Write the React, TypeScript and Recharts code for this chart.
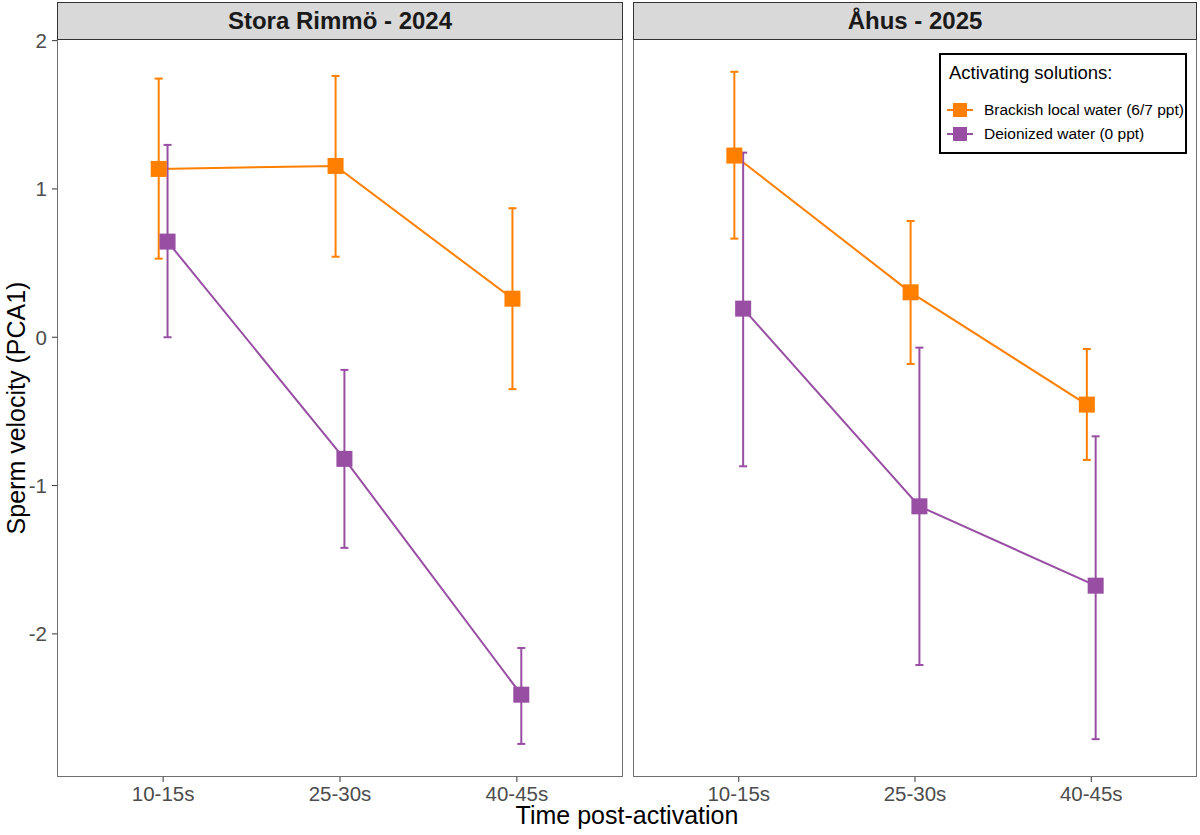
import React from 'react';
import { LineChart, Line, XAxis, YAxis, ErrorBar } from 'recharts';

// categories on the x axis
const timePoints = ['10-15s', '25-30s', '40-45s'];
const yTicks = [-2, -1, 0, 1, 2];

// Stora Rimmö - 2024
const rimmoBrackishMean = [1.135, 1.155, 0.26];
const rimmoBrackishLow = [0.53, 0.543, -0.35];
const rimmoBrackishHigh = [1.744, 1.762, 0.87];
const rimmoDeionMean = [0.645, -0.82, -2.41];
const rimmoDeionLow = [0.0, -1.42, -2.742];
const rimmoDeionHigh = [1.297, -0.22, -2.095];

// Åhus - 2025
const ahusBrackishMean = [1.225, 0.303, -0.454];
const ahusBrackishLow = [0.665, -0.18, -0.827];
const ahusBrackishHigh = [1.79, 0.784, -0.079];
const ahusDeionMean = [0.193, -1.14, -1.675];
const ahusDeionLow = [-0.87, -2.21, -2.71];
const ahusDeionHigh = [1.245, -0.07, -0.668];

const ORANGE = '#FF7F00';
const PURPLE = '#984EA3';
const FONT = '"Liberation Sans", Arial, Helvetica, sans-serif';
const DODGE = 0.025;

const Y_DOMAIN: [number, number] = [-2.965, 2.011];

// turn mean / lower / upper arrays into points for a line with error bars
const buildSeries = (means: number[], lows: number[], highs: number[], shift: number) =>
  means.map((m, i) => ({
    x: i + 1 + shift,
    y: m,
    err: [m - lows[i], highs[i] - m],
  }));

const squareDot = (color: string) => (props: any) => {
  const { cx, cy, index } = props;
  return <rect key={`sq-${index}`} x={cx - 8} y={cy - 8} width={16} height={16} fill={color} />;
};

interface PanelProps {
  title: string;
  left: number;
  width: number;
  plotLeft: number;
  plotRight: number;
  showYAxis: boolean;
  brackish: { x: number; y: number; err: number[] }[];
  deionized: { x: number; y: number; err: number[] }[];
}

const Panel: React.FC<PanelProps> = ({ title, left, width, plotLeft, plotRight, showYAxis, brackish, deionized }) => {
  const top = 39;
  const bottom = 777;
  return (
    <>
      <div style={{ position: 'absolute', left, top: 0 }}>
        <LineChart
          width={width}
          height={835}
          margin={{ top, right: left + width - plotRight, bottom: 0, left: showYAxis ? 0 : plotLeft - left }}
        >
          <XAxis
            dataKey="x"
            type="number"
            domain={[0.4, 3.6]}
            ticks={[1, 2, 3]}
            allowDataOverflow
            tickFormatter={(v: number) => timePoints[v - 1]}
            height={835 - bottom}
            axisLine={false}
            tickSize={5}
            tickMargin={4}
            tickLine={{ stroke: '#333333' }}
            tick={{ fontSize: 20.5, fill: '#4d4d4d', fontFamily: FONT }}
          />
          <YAxis
            type="number"
            domain={Y_DOMAIN}
            ticks={yTicks}
            allowDataOverflow
            hide={!showYAxis}
            width={plotLeft - left}
            axisLine={false}
            tickSize={5}
            tickMargin={5}
            tickLine={{ stroke: '#333333' }}
            tick={{ fontSize: 20.5, fill: '#4d4d4d', fontFamily: FONT }}
          />
          <Line
            data={brackish}
            dataKey="y"
            stroke={ORANGE}
            strokeWidth={2}
            dot={squareDot(ORANGE)}
            activeDot={false}
            isAnimationActive={false}
          >
            <ErrorBar dataKey="err" direction="y" width={4} stroke={ORANGE} strokeWidth={2} isAnimationActive={false} />
          </Line>
          <Line
            data={deionized}
            dataKey="y"
            stroke={PURPLE}
            strokeWidth={2}
            dot={squareDot(PURPLE)}
            activeDot={false}
            isAnimationActive={false}
          >
            <ErrorBar dataKey="err" direction="y" width={4} stroke={PURPLE} strokeWidth={2} isAnimationActive={false} />
          </Line>
        </LineChart>
      </div>
      {/* panel border */}
      <div
        style={{
          position: 'absolute',
          left: plotLeft,
          top,
          width: plotRight - plotLeft,
          height: bottom - top,
          border: '1.3px solid #707070',
          boxSizing: 'border-box',
          pointerEvents: 'none',
        }}
      />
      {/* facet strip */}
      <div
        style={{
          position: 'absolute',
          left: plotLeft,
          top: 2,
          width: plotRight - plotLeft,
          height: top - 1,
          background: '#d9d9d9',
          border: '1.3px solid #333333',
          boxSizing: 'border-box',
          display: 'flex',
          alignItems: 'center',
          justifyContent: 'center',
          fontFamily: FONT,
          fontWeight: 'bold',
          fontSize: 24,
          color: '#1a1a1a',
        }}
      >
        {title}
      </div>
    </>
  );
};

const LegendIcon: React.FC<{ color: string }> = ({ color }) => (
  <svg width={26} height={16} style={{ display: 'block' }}>
    <line x1={0} y1={8} x2={26} y2={8} stroke={color} strokeWidth={2} />
    <rect x={6} y={1} width={14} height={14} fill={color} />
  </svg>
);

export default function App() {
  return (
    <div style={{ position: 'absolute', left: 0, top: 0, width: 1200, height: 835, background: '#fff', fontFamily: FONT }}>
      <Panel
        title="Stora Rimmö - 2024"
        left={0}
        width={630}
        plotLeft={57}
        plotRight={623}
        showYAxis
        brackish={buildSeries(rimmoBrackishMean, rimmoBrackishLow, rimmoBrackishHigh, -DODGE)}
        deionized={buildSeries(rimmoDeionMean, rimmoDeionLow, rimmoDeionHigh, DODGE)}
      />
      <Panel
        title="Åhus - 2025"
        left={633}
        width={567}
        plotLeft={633}
        plotRight={1197}
        showYAxis={false}
        brackish={buildSeries(ahusBrackishMean, ahusBrackishLow, ahusBrackishHigh, -DODGE)}
        deionized={buildSeries(ahusDeionMean, ahusDeionLow, ahusDeionHigh, DODGE)}
      />

      {/* y axis title */}
      <div
        style={{
          position: 'absolute',
          left: 16,
          top: 408,
          transform: 'translate(-50%, -50%) rotate(-90deg)',
          whiteSpace: 'nowrap',
          fontSize: 25,
          lineHeight: '25px',
          color: '#000',
        }}
      >
        Sperm velocity (PCA1)
      </div>

      {/* x axis title */}
      <div
        style={{
          position: 'absolute',
          left: 627,
          top: 806,
          transform: 'translateX(-50%)',
          whiteSpace: 'nowrap',
          fontSize: 25,
          lineHeight: '18px',
          color: '#000',
        }}
      >
        Time post-activation
      </div>

      {/* legend */}
      <div
        style={{
          position: 'absolute',
          left: 939,
          top: 53,
          width: 248,
          height: 101,
          border: '2px solid #000',
          boxSizing: 'border-box',
          background: '#fff',
        }}
      >
        <div style={{ position: 'absolute', left: 8, top: 9, fontSize: 18.5, lineHeight: '18.5px', whiteSpace: 'nowrap' }}>
          Activating solutions:
        </div>
        <div style={{ position: 'absolute', left: 6, top: 45, height: 20, display: 'flex', alignItems: 'center' }}>
          <LegendIcon color={ORANGE} />
          <span style={{ marginLeft: 11, fontSize: 15.5, whiteSpace: 'nowrap' }}>Brackish local water (6/7 ppt)</span>
        </div>
        <div style={{ position: 'absolute', left: 6, top: 69, height: 20, display: 'flex', alignItems: 'center' }}>
          <LegendIcon color={PURPLE} />
          <span style={{ marginLeft: 11, fontSize: 15.5, whiteSpace: 'nowrap' }}>Deionized water (0 ppt)</span>
        </div>
      </div>
    </div>
  );
}
